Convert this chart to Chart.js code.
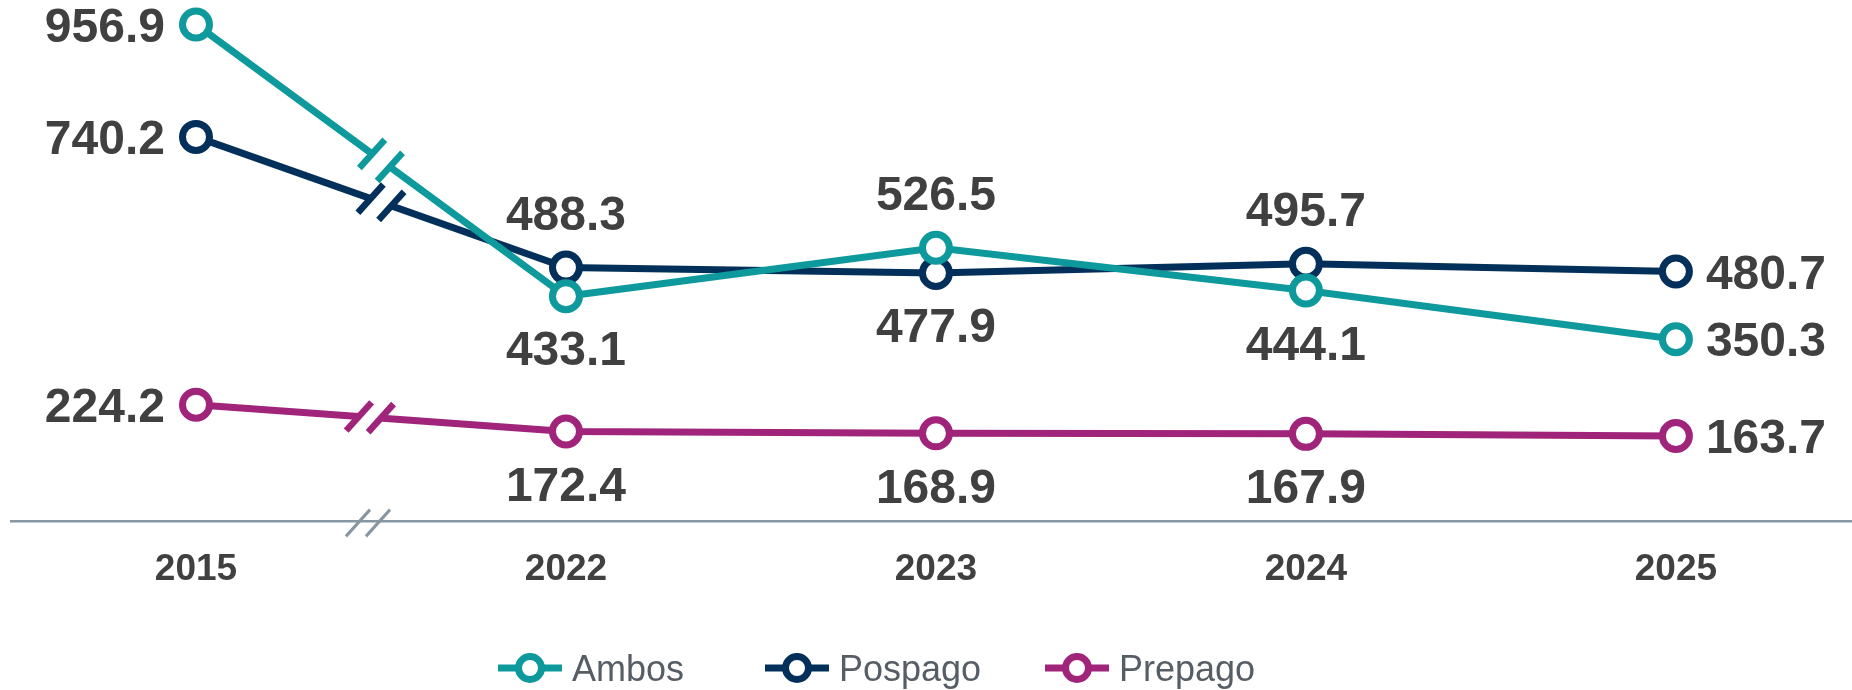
<!DOCTYPE html>
<html>
<head>
<meta charset="utf-8">
<script src="https://cdn.jsdelivr.net/npm/chart.js@4.4.1/dist/chart.umd.min.js"></script>
<style>
  html, body { margin: 0; padding: 0; background: #fff; }
  #wrap { width: 1852px; height: 690px; }
</style>
</head>
<body>
<div id="wrap"><canvas id="chart" width="1852" height="690"></canvas></div>
<script>
const years = ["2015", "2022", "2023", "2024", "2025"];
const ambos = [956.9, 433.1, 526.5, 444.1, 350.3];
const pospago = [740.2, 488.3, 477.9, 495.7, 480.7];
const prepago = [224.2, 172.4, 168.9, 167.9, 163.7];
const seriesNames = ["Ambos", "Pospago", "Prepago"];
const seriesColors = ["#0e9a9c", "#03305a", "#a0247a"];

// where each value label sits next to its point
const labelSides = [
  ["left", "below", "above", "below", "right"],
  ["left", "above", "below", "above", "right"],
  ["left", "below", "below", "below", "right"]
];

const FONT = "'Liberation Sans', Arial, sans-serif";
const legendItemX = [498, 765, 1045];

function toPoints(values) {
  return values.map((v, i) => ({ x: i, y: v }));
}

function slash(ctx, cx, cy, half) {
  const a = 48 * Math.PI / 180;
  const c = Math.cos(a) * half, s = Math.sin(a) * half;
  ctx.beginPath();
  ctx.moveTo(cx - c, cy + s);
  ctx.lineTo(cx + c, cy - s);
  ctx.stroke();
}

const extrasPlugin = {
  id: "extras",
  afterDatasetsDraw(chart) {
    const ctx = chart.ctx;
    const area = chart.chartArea;

    // break marks between 2015 and 2022
    chart.data.datasets.forEach((ds, di) => {
      const pts = chart.getDatasetMeta(di).data;
      const a = pts[0], b = pts[1];
      const dx = b.x - a.x, dy = b.y - a.y;
      const len = Math.hypot(dx, dy);
      const ux = dx / len, uy = dy / len;
      const t = di === 2 ? 0.47 : 0.5;
      const mx = a.x + dx * t, my = a.y + dy * t;
      const g = 11;
      ctx.save();
      ctx.lineCap = "butt";
      ctx.strokeStyle = "#fff";
      ctx.lineWidth = 10;
      ctx.beginPath();
      ctx.moveTo(mx - ux * g, my - uy * g);
      ctx.lineTo(mx + ux * g, my + uy * g);
      ctx.stroke();
      ctx.strokeStyle = ds.borderColor;
      ctx.lineWidth = 6.5;
      slash(ctx, mx - ux * g, my - uy * g, 19);
      slash(ctx, mx + ux * g, my + uy * g, 19);
      ctx.restore();
    });

    // axis break
    const sx = chart.scales.x;
    const bx = (sx.getPixelForValue(0) + sx.getPixelForValue(1)) / 2 - 13;
    ctx.save();
    ctx.strokeStyle = "#8896a2";
    ctx.lineWidth = 3;
    slash(ctx, bx - 10, area.bottom + 2, 18);
    slash(ctx, bx + 10, area.bottom + 2, 18);
    ctx.restore();

    // value labels
    ctx.save();
    ctx.font = "bold 48px " + FONT;
    ctx.fillStyle = "#404040";
    ctx.textBaseline = "middle";
    chart.data.datasets.forEach((ds, di) => {
      chart.getDatasetMeta(di).data.forEach((p, i) => {
        const text = ds.data[i].y.toFixed(1);
        const side = labelSides[di][i];
        if (side === "left") {
          ctx.textAlign = "right";
          ctx.fillText(text, p.x - 31, Math.max(p.y + 4, 29));
        } else if (side === "right") {
          ctx.textAlign = "left";
          ctx.fillText(text, p.x + 30, p.y + 4);
        } else if (side === "above") {
          ctx.textAlign = "center";
          ctx.fillText(text, p.x, p.y - 51);
        } else {
          ctx.textAlign = "center";
          ctx.fillText(text, p.x, p.y + 56);
        }
      });
    });
    ctx.restore();
  },
  afterDraw(chart) {
    const ctx = chart.ctx;
    const y = 668;
    ctx.save();
    chart.data.datasets.forEach((ds, di) => {
      const x = legendItemX[di];
      ctx.strokeStyle = ds.borderColor;
      ctx.lineWidth = 7;
      ctx.beginPath();
      ctx.moveTo(x, y);
      ctx.lineTo(x + 64, y);
      ctx.stroke();
      ctx.fillStyle = "#fff";
      ctx.beginPath();
      ctx.arc(x + 32, y, 11.5, 0, Math.PI * 2);
      ctx.fill();
      ctx.stroke();
      ctx.fillStyle = "#565d65";
      ctx.font = "36px " + FONT;
      ctx.textAlign = "left";
      ctx.textBaseline = "middle";
      ctx.fillText(ds.label, x + 74, y + 3);
    });
    ctx.restore();
  }
};

const seriesValues = [ambos, pospago, prepago];

new Chart(document.getElementById("chart"), {
  type: "line",
  data: {
    datasets: seriesValues.map((vals, i) => ({
      label: seriesNames[i],
      data: toPoints(vals),
      borderColor: seriesColors[i],
      backgroundColor: "#fff",
      borderWidth: 7,
      tension: 0,
      fill: false,
      clip: false,
      pointRadius: 13.5,
      pointBorderWidth: 7,
      pointBackgroundColor: "#fff",
      pointBorderColor: seriesColors[i]
    }))
  },
  options: {
    responsive: false,
    animation: false,
    devicePixelRatio: 1,
    layout: { autoPadding: false, padding: { left: 11, right: 0, top: 0, bottom: 89 } },
    plugins: {
      legend: { display: false },
      tooltip: { enabled: false }
    },
    scales: {
      x: {
        type: "linear",
        min: -0.5,
        max: 4.476,
        grid: { display: false, drawTicks: false },
        border: { display: true, color: "#8896a2", width: 2.5 },
        afterBuildTicks(scale) {
          scale.ticks = years.map((y, i) => ({ value: i }));
        },
        afterFit(scale) {
          scale.height = 80;
        },
        ticks: {
          autoSkip: false,
          maxRotation: 0,
          padding: 27,
          color: "#404040",
          font: { family: FONT, size: 37, weight: "bold" },
          callback: (v) => years[v]
        }
      },
      y: { display: false, min: 0, max: 1004 }
    }
  },
  plugins: [extrasPlugin]
});
</script>
</body>
</html>
